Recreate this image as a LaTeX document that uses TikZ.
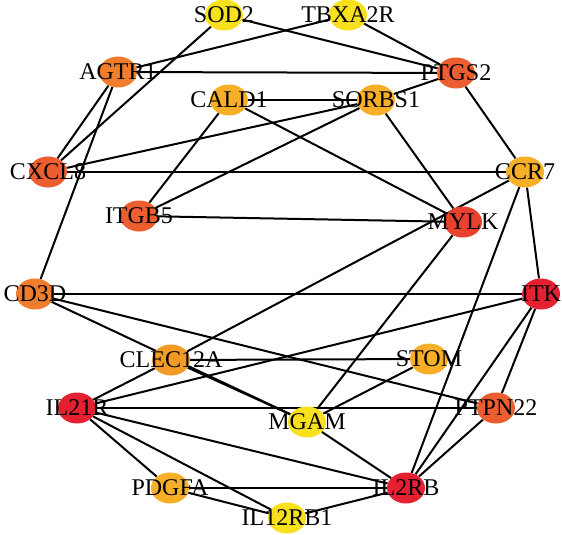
\documentclass[tikz,border=0pt]{standalone}
\usepackage{fontspec}
\setmainfont{Liberation Serif}
\usetikzlibrary{shapes.geometric,backgrounds}
\definecolor{geneyellow}{HTML}{F8E11C}
\definecolor{geneamber}{HTML}{F6AF26}
\definecolor{geneapricot}{HTML}{F29B27}
\definecolor{geneorange}{HTML}{F07D2B}
\definecolor{genevermilion}{HTML}{EC5E30}
\definecolor{genescarlet}{HTML}{E8412E}
\definecolor{genered}{HTML}{E52131}

\begin{document}
\begin{tikzpicture}[x=1pt, y=-1pt,
        gene/.style={ellipse, minimum width=38pt, minimum height=31pt, inner sep=0pt, draw=none},
        link/.style={line width=2pt, black},
        every label/.style={font=\fontsize{24}{24}\selectfont, inner sep=0pt}
        ]
        \useasboundingbox (0,0) rectangle (562,535);
        % outer ring
        \node [gene, fill=geneyellow, label=center:SOD2] (sod2) at (224,15) {};
        \node [gene, fill=geneyellow, label=center:TBXA2R] (tbxa2r) at (348,15) {};
        \node [gene, fill=geneorange, label=center:AGTR1] (agtr1) at (118,72) {};
        \node [gene, fill=genevermilion, label=center:PTGS2] (ptgs2) at (456,73) {};
        \node [gene, fill=genevermilion, label=center:CXCL8] (cxcl8) at (48,172) {};
        \node [gene, fill=geneamber, label=center:CCR7] (ccr7) at (525,172) {};
        \node [gene, fill=geneorange, label=center:CD3D] (cd3d) at (35,294) {};
        \node [gene, fill=genered, label=center:ITK] (itk) at (541,294) {};
        \node [gene, fill=genered, label=center:IL21R] (il21r) at (77,408) {};
        \node [gene, fill=genevermilion, label=center:PTPN22] (ptpn22) at (496,408) {};
        \node [gene, fill=geneamber, label=center:PDGFA] (pdgfa) at (170,488) {};
        \node [gene, fill=genered, label=center:IL2RB] (il2rb) at (406,488) {};
        \node [gene, fill=geneyellow, label=center:IL12RB1] (il12rb1) at (287,518) {};
        % inner ring
        \node [gene, fill=geneamber, label=center:CALD1] (cald1) at (229,100) {};
        \node [gene, fill=geneamber, label=center:SORBS1] (sorbs1) at (376,100) {};
        \node [gene, fill=genevermilion, label=center:ITGB5] (itgb5) at (139,216) {};
        \node [gene, fill=genescarlet, label=center:MYLK] (mylk) at (463,222) {};
        \node [gene, fill=geneapricot, label=center:CLEC12A] (clec12a) at (171,360) {};
        \node [gene, fill=geneamber, label=center:STOM] (stom) at (429,359) {};
        \node [gene, fill=geneyellow, label=center:MGAM] (mgam) at (307,422) {};

        \begin{pgfonlayer}{background}
          \draw [link] (sod2) -- (ptgs2);
          \draw [link] (sod2) -- (cxcl8);
          \draw [link] (tbxa2r) -- (agtr1);
          \draw [link] (tbxa2r) -- (ptgs2);
          \draw [link] (agtr1) -- (ptgs2);
          \draw [link] (agtr1) -- (cxcl8);
          \draw [link] (agtr1) -- (cd3d);
          \draw [link] (cald1) -- (sorbs1);
          \draw [link] (cald1) -- (itgb5);
          \draw [link] (cald1) -- (mylk);
          \draw [link] (sorbs1) -- (cxcl8);
          \draw [link] (sorbs1) -- (ptgs2);
          \draw [link] (sorbs1) -- (itgb5);
          \draw [link] (sorbs1) -- (mylk);
          \draw [link] (ptgs2) -- (ccr7);
          \draw [link] (cxcl8) -- (ccr7);
          \draw [link] (itgb5) -- (mylk);
          \draw [link] (ccr7) -- (clec12a);
          \draw [link] (ccr7) -- (itk);
          \draw [link] (ccr7) -- (il2rb);
          \draw [link] (mylk) -- (mgam);
          \draw [link] (cd3d) -- (itk);
          \draw [link] (cd3d) -- (mgam);
          \draw [link] (cd3d) -- (ptpn22);
          \draw [link] (itk) -- (il21r);
          \draw [link] (itk) -- (ptpn22);
          \draw [link] (itk) -- (il2rb);
          \draw [link] (clec12a) -- (stom);
          \draw [link] (clec12a) -- (il21r);
          \draw [link] (clec12a) -- (mgam);
          \draw [link] (stom) -- (mgam);
          \draw [link] (il21r) -- (ptpn22);
          \draw [link] (il21r) -- (il2rb);
          \draw [link] (il21r) -- (pdgfa);
          \draw [link] (il21r) -- (il12rb1);
          \draw [link] (mgam) -- (il2rb);
          \draw [link] (ptpn22) -- (il2rb);
          \draw [link] (pdgfa) -- (il2rb);
          \draw [link] (pdgfa) -- (il12rb1);
          \draw [link] (il12rb1) -- (il2rb);
        \end{pgfonlayer}
      \end{tikzpicture}
\end{document}
